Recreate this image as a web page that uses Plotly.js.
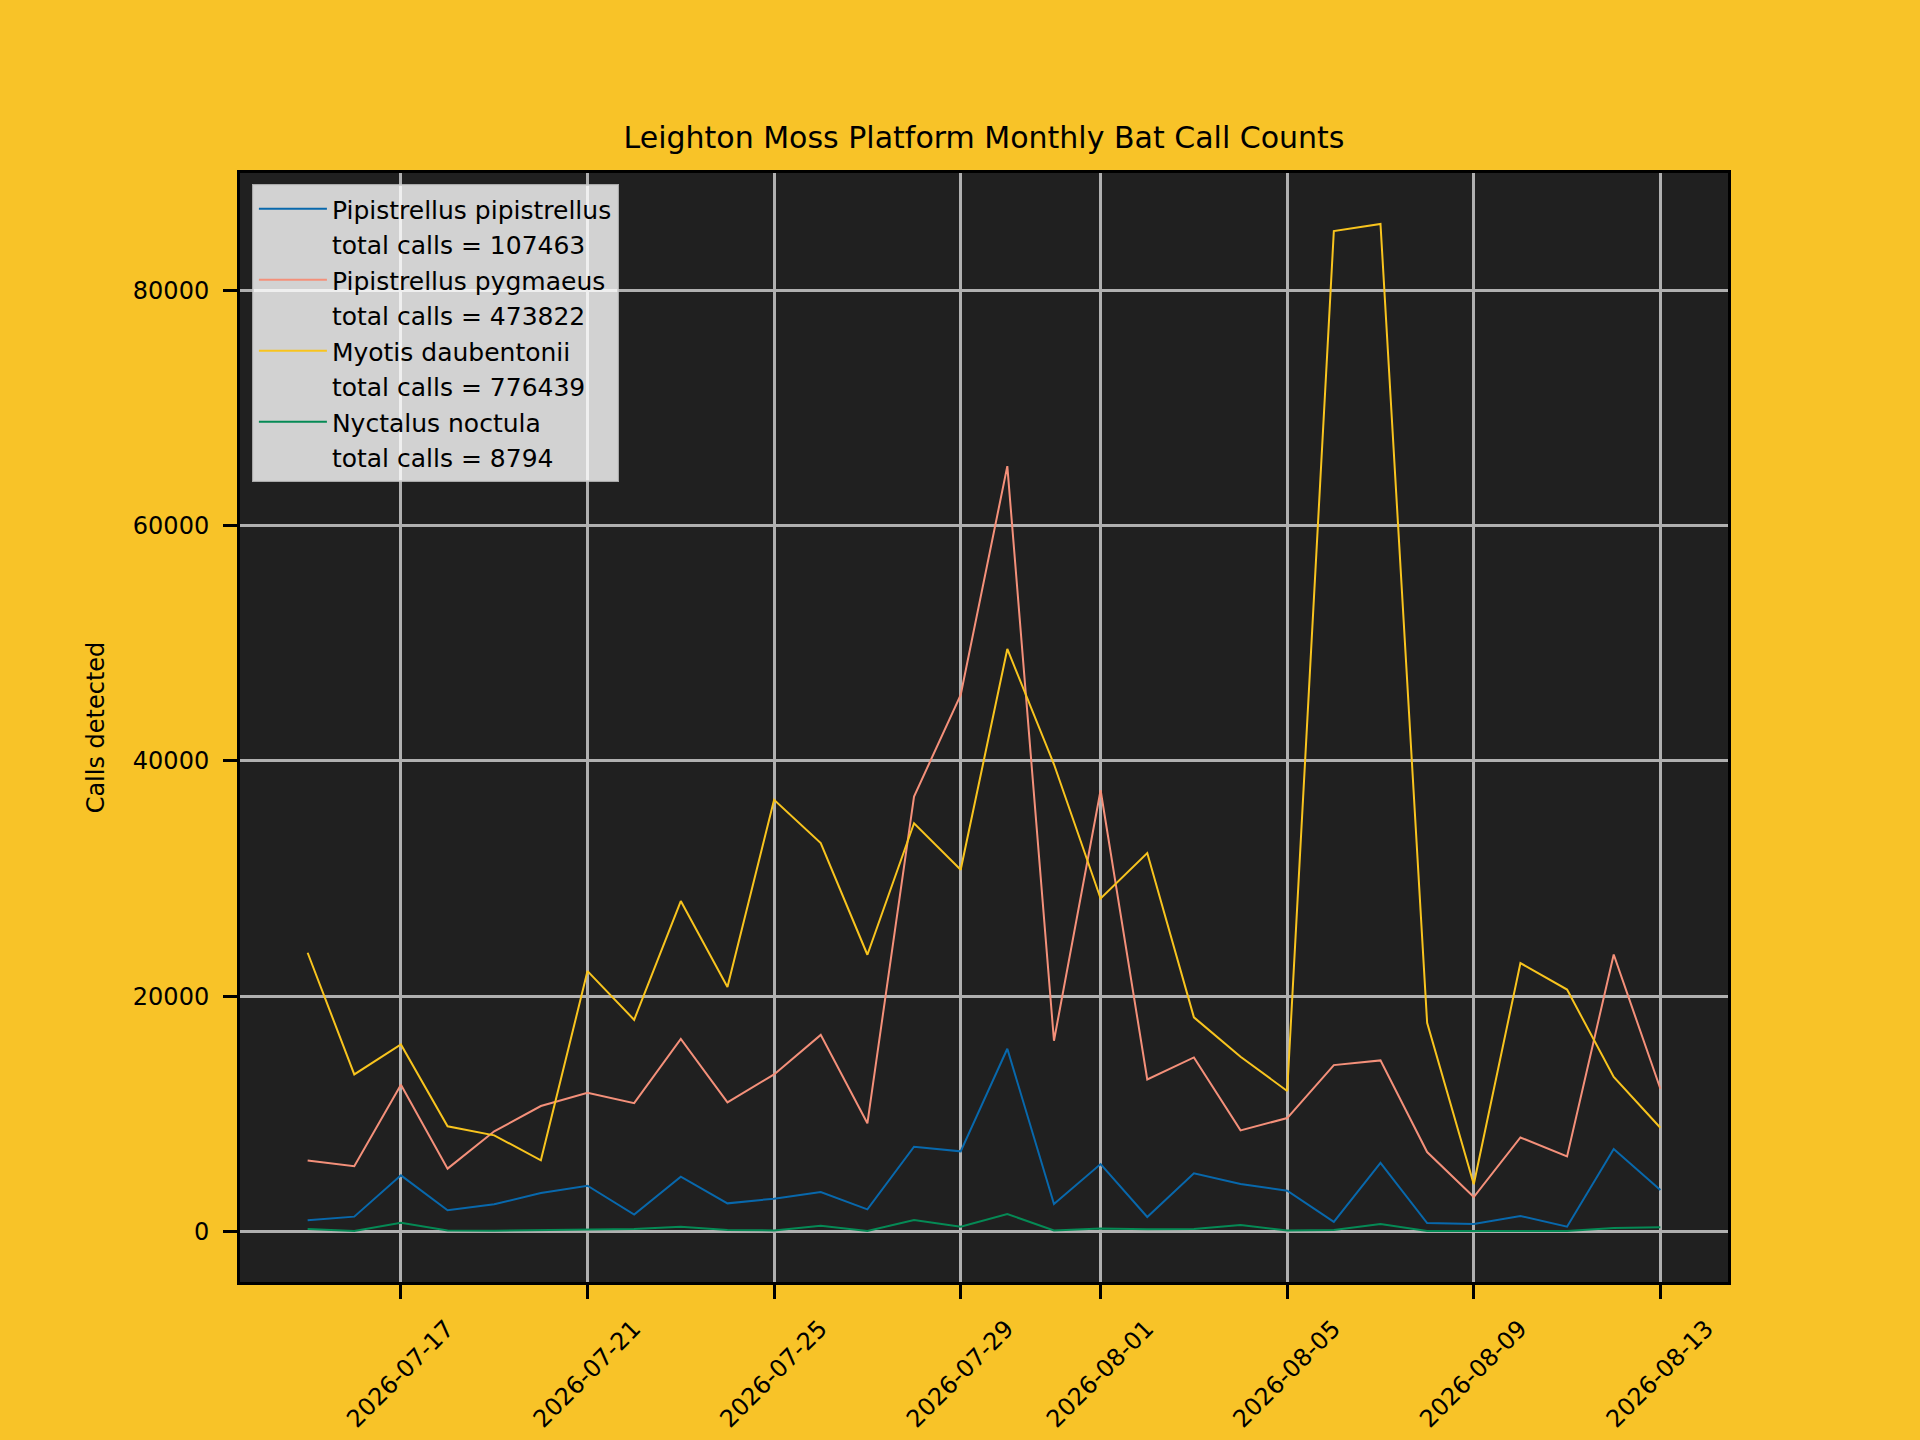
<!DOCTYPE html>
<html>
<head>
<meta charset="utf-8">
<script src="https://cdn.plot.ly/plotly-3.0.1.min.js"></script>
<style>
  html, body { margin: 0; padding: 0; background: #f8c328; }
  #plot { width: 1920px; height: 1440px; }
</style>
</head>
<body>
<div id="plot"></div>
<script>
const dates = [
  '2026-07-15', '2026-07-16', '2026-07-17', '2026-07-18', '2026-07-19',
  '2026-07-20', '2026-07-21', '2026-07-22', '2026-07-23', '2026-07-24',
  '2026-07-25', '2026-07-26', '2026-07-27', '2026-07-28', '2026-07-29',
  '2026-07-30', '2026-07-31', '2026-08-01', '2026-08-02', '2026-08-03',
  '2026-08-04', '2026-08-05', '2026-08-06', '2026-08-07', '2026-08-08',
  '2026-08-09', '2026-08-10', '2026-08-11', '2026-08-12', '2026-08-13',
];

const pipistrellus = [960, 1270, 4780, 1810, 2320, 3280, 3900, 1440, 4670, 2400,
  2800, 3360, 1890, 7210, 6820, 15540, 2350, 5740, 1240, 4950,
  4040, 3480, 820, 5830, 730, 650, 1330, 420, 7020, 3530];

const pygmaeus = [6050, 5550, 12480, 5350, 8520, 10670, 11800, 10920, 16380, 10980,
  13360, 16720, 9200, 36980, 45610, 65060, 16220, 37510, 12930, 14800,
  8600, 9650, 14150, 14550, 6760, 2940, 8000, 6390, 23550, 12140];

const daubentonii = [23700, 13360, 15910, 8950, 8180, 6060, 22140, 18000, 28090, 20780,
  36700, 33020, 23530, 34710, 30750, 49520, 39720, 28310, 32170, 18210,
  14860, 11950, 85040, 85640, 17740, 4020, 22820, 20570, 13140, 8830];

const noctula = [210, 50, 750, 100, 70, 130, 130, 210, 410, 130,
  100, 500, 50, 980, 410, 1490, 100, 270, 190, 210,
  550, 100, 130, 640, 50, 70, 50, 50, 300, 360];

const species = ['Pipistrellus pipistrellus', 'Pipistrellus pygmaeus', 'Myotis daubentonii', 'Nyctalus noctula'];
const totals = [107463, 473822, 776439, 8794];
const colors = ['#0868ac', '#f4907a', '#f8c41e', '#058a55'];
const series = [pipistrellus, pygmaeus, daubentonii, noctula];

const tickDates = ['2026-07-17', '2026-07-21', '2026-07-25', '2026-07-29',
  '2026-08-01', '2026-08-05', '2026-08-09', '2026-08-13'];

const font = 'DejaVu Sans, Verdana, sans-serif';

const traces = [];
series.forEach((ys, i) => {
  traces.push({
    x: dates,
    y: ys,
    name: species[i],
    mode: 'lines',
    type: 'scatter',
    line: { color: colors[i], width: 2 },
  });
  // second legend row for the total, no visible handle
  traces.push({
    x: [null],
    y: [null],
    name: 'total calls = ' + totals[i],
    mode: 'lines',
    type: 'scatter',
    line: { color: 'rgba(0,0,0,0)', width: 2 },
    hoverinfo: 'skip',
  });
});

const layout = {
  width: 1920,
  height: 1440,
  paper_bgcolor: '#f8c328',
  plot_bgcolor: '#202020',
  font: { family: font, size: 24, color: '#000000' },
  margin: { l: 240, r: 192, t: 173, b: 158, pad: 0 },
  title: {
    text: 'Leighton Moss Platform Monthly Bat Call Counts',
    font: { family: font, size: 30, color: '#000000' },
    x: 0.5125,
    xanchor: 'center',
    yref: 'container',
    y: 0.9045,
    yanchor: 'middle',
  },
  xaxis: {
    type: 'date',
    range: ['2026-07-13 13:12', '2026-08-14 10:48'],
    tickmode: 'array',
    tickvals: tickDates,
    ticktext: tickDates,
    tickangle: -45,
    ticklabelshift: 46,
    ticklabelstandoff: 6,
    ticks: 'outside',
    ticklen: 14,
    tickwidth: 3,
    tickcolor: '#000000',
    showgrid: true,
    gridcolor: '#b0b0b0',
    gridwidth: 3,
    showline: true,
    linecolor: '#000000',
    linewidth: 3,
    mirror: true,
    zeroline: false,
    automargin: false,
    tickfont: { family: font, size: 24, color: '#000000' },
  },
  yaxis: {
    range: [-4285, 89975],
    tickmode: 'linear',
    tick0: 0,
    dtick: 20000,
    tickformat: 'd',
    ticks: 'outside',
    ticklen: 14,
    tickwidth: 3,
    tickcolor: '#000000',
    ticklabelstandoff: 9,
    showgrid: true,
    gridcolor: '#b0b0b0',
    gridwidth: 3,
    showline: true,
    linecolor: '#000000',
    linewidth: 3,
    mirror: true,
    zeroline: false,
    automargin: false,
    tickfont: { family: font, size: 24, color: '#000000' },
    title: {
      text: 'Calls detected',
      font: { family: font, size: 24, color: '#000000' },
      standoff: 22,
    },
  },
  showlegend: true,
  legend: {
    x: 0.008,
    y: 0.99,
    xanchor: 'left',
    yanchor: 'top',
    bgcolor: 'rgba(255,255,255,0.8)',
    bordercolor: 'rgba(204,204,204,0.8)',
    borderwidth: 2,
    itemwidth: 68,
    font: { family: font, size: 25, color: '#000000' },
    traceorder: 'normal',
  },
};

const config = {
  staticPlot: true,
  displayModeBar: false,
};

Plotly.newPlot('plot', traces, layout, config);
</script>
</body>
</html>
